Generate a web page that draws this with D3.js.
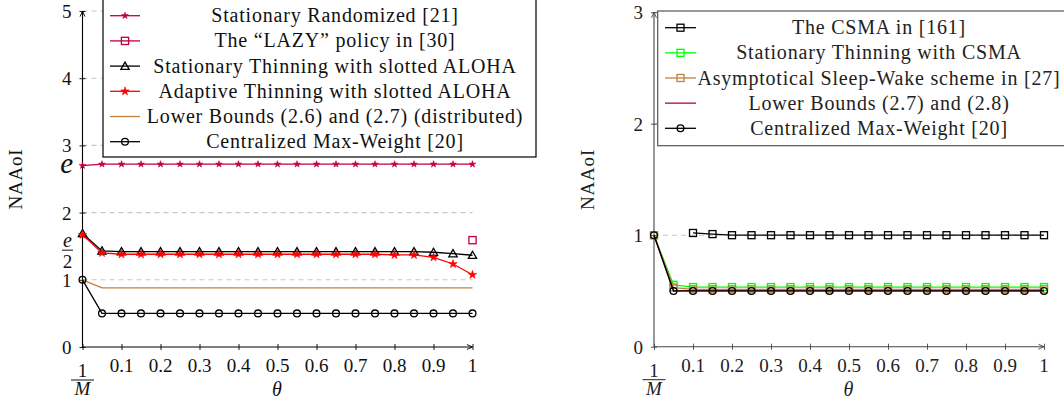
<!DOCTYPE html>
<html><head><meta charset="utf-8">
<script src="https://cdn.jsdelivr.net/npm/d3@7"></script>
<style>
body{margin:0;background:#fff}
text{font-family:"Liberation Serif","Times New Roman",serif;fill:#111}
</style>
</head><body>
<svg id="c" width="1064" height="404"></svg>
<script>
// ---------------- data ----------------
const theta = [0,0.05,0.1,0.15,0.2,0.25,0.3,0.35,0.4,0.45,0.5,0.55,0.6,0.65,0.7,0.75,0.8,0.85,0.9,0.95,1];
const thetaCsma = [0.1,0.15,0.2,0.25,0.3,0.35,0.4,0.45,0.5,0.55,0.6,0.65,0.7,0.75,0.8,0.85,0.9,0.95,1];
const xTickValues = [0.1,0.2,0.3,0.4,0.5,0.6,0.7,0.8,0.9,1];
const xTickLabels = ["0.1","0.2","0.3","0.4","0.5","0.6","0.7","0.8","0.9","1"];

// left panel
const leftYTicks = [0,1,2,3,4,5];
const leftGrid = [1,2,3,4,5];
const statRandomized = [2.70,2.72,2.72,2.72,2.72,2.72,2.72,2.72,2.72,2.72,2.72,2.72,2.72,2.72,2.72,2.72,2.72,2.72,2.72,2.72,2.72];
const lazyTheta = [1];
const lazyPolicy = [1.59];
const statThinAloha = [1.69,1.43,1.42,1.42,1.42,1.42,1.42,1.42,1.42,1.42,1.42,1.42,1.42,1.42,1.42,1.42,1.42,1.42,1.41,1.39,1.365];
const adaptThinAloha = [1.67,1.40,1.38,1.38,1.38,1.38,1.38,1.38,1.38,1.38,1.38,1.38,1.38,1.38,1.38,1.38,1.37,1.37,1.335,1.235,1.075];
const lowerBoundsDist = [1,0.88,0.88,0.88,0.88,0.88,0.88,0.88,0.88,0.88,0.88,0.88,0.88,0.88,0.88,0.88,0.88,0.88,0.88,0.88,0.88];
const maxWeightLeft = [1,0.5,0.5,0.5,0.5,0.5,0.5,0.5,0.5,0.5,0.5,0.5,0.5,0.5,0.5,0.5,0.5,0.5,0.5,0.5,0.5];

// right panel
const rightYTicks = [0,1,2,3];
const rightGrid = [1,2,3];
const csma161 = [1.02,1.01,1.0,1.0,1.0,1.0,1.0,1.0,1.0,1.0,1.0,1.0,1.0,1.0,1.0,1.0,1.0,1.0,1.0];
const statThinCsma = [1.0,0.555,0.535,0.535,0.535,0.535,0.535,0.535,0.535,0.535,0.535,0.535,0.535,0.535,0.535,0.535,0.535,0.535,0.535,0.535,0.535];
const sleepWake = [1.0,0.53,0.515,0.515,0.515,0.515,0.515,0.515,0.515,0.515,0.515,0.515,0.515,0.515,0.515,0.515,0.515,0.515,0.515,0.515,0.515];
const lowerBoundsRight = [1,0.5,0.5,0.5,0.5,0.5,0.5,0.5,0.5,0.5,0.5,0.5,0.5,0.5,0.5,0.5,0.5,0.5,0.5,0.5,0.5];
const maxWeightRight = [1,0.5,0.5,0.5,0.5,0.5,0.5,0.5,0.5,0.5,0.5,0.5,0.5,0.5,0.5,0.5,0.5,0.5,0.5,0.5,0.5];

const leftNames = ["Stationary Randomized [21]","The \u201CLAZY\u201D policy in [30]","Stationary Thinning with slotted ALOHA","Adaptive Thinning with slotted ALOHA","Lower Bounds (2.6) and (2.7) (distributed)","Centralized Max-Weight [20]"];
const rightNames = ["The CSMA in [161]","Stationary Thinning with CSMA","Asymptotical Sleep-Wake scheme in [27]","Lower Bounds (2.7) and (2.8)","Centralized Max-Weight [20]"];

// ---------------- styles ----------------
const PURPLE = "#bf0040", BROWN = "#bf8040", RED = "#ff0000", GREEN = "#00ff00", BLACK = "#000";

const svg = d3.select("#c");
const defs = svg.append("defs");
function arrowMarker(id, color){
  defs.append("marker").attr("id",id).attr("viewBox","0 0 10 10").attr("refX",9).attr("refY",5)
    .attr("markerWidth",7).attr("markerHeight",7).attr("orient","auto-start-reverse")
    .attr("markerUnits","userSpaceOnUse")
    .append("path").attr("d","M1,1.5 L9,5 L1,8.5").attr("fill","none").attr("stroke",color).attr("stroke-width",1.3);
}
arrowMarker("arL","#000");
arrowMarker("arR","#444");

function drawMarker(g, type, cx, cy, color, size){
  if(type==="circle"){
    g.append("circle").attr("cx",cx).attr("cy",cy).attr("r",size).attr("fill","none").attr("stroke",color).attr("stroke-width",1.3);
  } else if(type==="square"){
    g.append("rect").attr("x",cx-size).attr("y",cy-size).attr("width",2*size).attr("height",2*size)
      .attr("fill","none").attr("stroke",color).attr("stroke-width",1.3);
  } else if(type==="star"){
    g.append("path").attr("d",d3.symbol(d3.symbolStar, size)()).attr("transform",`translate(${cx},${cy})`)
      .attr("fill",color).attr("stroke",color).attr("stroke-width",0.6);
  } else if(type==="triangle"){
    g.append("path").attr("d",d3.symbol(d3.symbolTriangle, size)()).attr("transform",`translate(${cx},${cy+0.8})`)
      .attr("fill","none").attr("stroke",color).attr("stroke-width",1.3);
  }
}

function panel(o){
  const g = svg.append("g");
  const x = d3.scaleLinear().domain([0,1]).range([o.xl, o.xr]);
  const y = d3.scaleLinear().domain([0,o.yMax]).range([o.yb, o.yt]);
  // grid
  g.selectAll("line.grid").data(o.grid).join("line").attr("class","grid")
    .attr("x1",x(0)).attr("x2",x(1)).attr("y1",d=>y(d)).attr("y2",d=>y(d))
    .attr("stroke","#c8c8c8").attr("stroke-width",1.1).attr("stroke-dasharray","5,4");
  // axes lines with arrows
  g.append("line").attr("x1",x(0)).attr("x2",x(1)).attr("y1",y(0)).attr("y2",y(0))
    .attr("stroke",o.axisColor).attr("stroke-width",1.1).attr("marker-end",`url(#${o.arrow})`);
  g.append("line").attr("x1",x(0)).attr("x2",x(0)).attr("y1",y(0)).attr("y2",y(o.yMax))
    .attr("stroke",o.axisColor).attr("stroke-width",1.1).attr("marker-end",`url(#${o.arrow})`);
  // x ticks via d3 axis
  const xa = g.append("g").attr("transform",`translate(0,${y(0)})`)
    .call(d3.axisBottom(x).tickValues([0].concat(xTickValues)).tickSize(0).tickFormat(""));
  xa.select(".domain").remove();
  xa.selectAll(".tick line").attr("y1",-3).attr("y2",3).attr("stroke",o.axisColor).attr("stroke-width",0.9);
  g.selectAll("text.xt").data(xTickValues).join("text").attr("class","xt")
    .attr("x",d=>x(d)).attr("y",y(0)+25).attr("text-anchor","middle").style("font-size","19px")
    .style("fill",o.textColor).text((d,i)=>xTickLabels[i]);
  // 1/M
  g.append("text").attr("x",x(0)).attr("y",y(0)+30).attr("text-anchor","middle").style("font-size","19px").style("fill",o.textColor).text("1");
  g.append("line").attr("x1",x(0)-11.5).attr("x2",x(0)+11.5).attr("y1",y(0)+33).attr("y2",y(0)+33).attr("stroke",o.textColor).attr("stroke-width",1);
  g.append("text").attr("x",x(0)).attr("y",y(0)+48).attr("text-anchor","middle").style("font-size","19px").style("font-style","italic").style("fill",o.textColor).text("M");
  g.append("text").attr("x",(x(0)+x(1))/2 - 0.5).attr("y",396).attr("text-anchor","middle").style("font-size","20px").style("font-style","italic").style("fill",o.textColor).text("\u03B8");
  // y ticks
  const ya = g.append("g").attr("transform",`translate(${x(0)},0)`)
    .call(d3.axisLeft(y).tickValues(o.yTicks).tickSize(0).tickFormat(""));
  ya.select(".domain").remove();
  ya.selectAll(".tick line").attr("x1",-3).attr("x2",3).attr("stroke",o.axisColor).attr("stroke-width",0.9);
  g.selectAll("text.yt").data(o.yTicks).join("text").attr("class","yt")
    .attr("x",x(0)-11).attr("y",d=>y(d)+7).attr("text-anchor","end").style("font-size","19px")
    .style("fill",o.textColor).text(d=>d);
  // y label
  g.append("text").attr("transform",`translate(${o.ylabX},${(y(0)+y(o.yMax))/2}) rotate(-90)`)
    .attr("text-anchor","middle").style("font-size","19px").style("letter-spacing","0.8px").style("fill",o.textColor).text("NAAoI");
  if(o.extra) o.extra(g,x,y);
  // series
  const line = d3.line().x(d=>x(d[0])).y(d=>y(d[1]));
  o.series.forEach(s=>{
    const pts = s.xs.map((v,i)=>[v,s.ys[i]]);
    if(pts.length>1) g.append("path").attr("d",line(pts)).attr("fill","none").attr("stroke",s.color).attr("stroke-width",1.3);
    if(s.marker) pts.forEach(p=>drawMarker(g,s.marker,x(p[0]),y(p[1]),s.color,s.msize));
  });
  // legend
  const L = o.legend;
  g.append("rect").attr("x",L.x).attr("y",L.y).attr("width",L.w).attr("height",L.h)
    .attr("fill","#fff").attr("stroke",o.legendStroke).attr("stroke-width",1.2);
  o.series.forEach((s,i)=>{
    const cy = L.row0 + i*L.step;
    g.append("line").attr("x1",L.sx0).attr("x2",L.sx1).attr("y1",cy).attr("y2",cy).attr("stroke",s.color).attr("stroke-width",1.3);
    if(s.marker) drawMarker(g,s.marker,(L.sx0+L.sx1)/2,cy,s.color,s.msize);
    g.append("text").attr("x",L.tc).attr("y",cy+6.5).attr("text-anchor","middle")
      .style("font-size","20px").style("letter-spacing","0.8px").style("fill",o.textColor).text(s.name);
  });
}

panel({
  xl:82.5, xr:472.5, yb:347, yt:11, yMax:5, yTicks:leftYTicks, grid:leftGrid,
  axisColor:"#000", textColor:"#111", arrow:"arL", ylabX:22, legendStroke:"#000",
  series:[
    {name:leftNames[0], xs:theta, ys:statRandomized, color:PURPLE, marker:"star", msize:14},
    {name:leftNames[1], xs:lazyTheta, ys:lazyPolicy, color:PURPLE, marker:"square", msize:3.6},
    {name:leftNames[2], xs:theta, ys:statThinAloha, color:BLACK, marker:"triangle", msize:30},
    {name:leftNames[3], xs:theta, ys:adaptThinAloha, color:RED, marker:"star", msize:22},
    {name:leftNames[4], xs:theta, ys:lowerBoundsDist, color:BROWN, marker:null},
    {name:leftNames[5], xs:theta, ys:maxWeightLeft, color:BLACK, marker:"circle", msize:3.4}
  ],
  legend:{x:103, y:-3, w:433, h:160, row0:15.7, step:25.2, sx0:110, sx1:140, tc:335},
  extra:(g,x,y)=>{
    g.append("text").attr("x",73).attr("y",y(Math.E)+9).attr("text-anchor","end")
      .style("font-size","29px").style("font-style","italic").text("e");
    const ye = y(Math.E/2);
    g.append("text").attr("x",67.5).attr("y",ye-8.5).attr("text-anchor","middle").style("font-size","20px").style("font-style","italic").text("e");
    g.append("line").attr("x1",62).attr("x2",73).attr("y1",ye-5.5).attr("y2",ye-5.5).attr("stroke","#111").attr("stroke-width",1);
    g.append("text").attr("x",67.5).attr("y",ye+12.5).attr("text-anchor","middle").style("font-size","19px").text("2");
  }
});

panel({
  xl:654, xr:1044, yb:346.7, yt:12.2, yMax:3, yTicks:rightYTicks, grid:rightGrid,
  axisColor:"#444", textColor:"#222", arrow:"arR", ylabX:594, legendStroke:"#555",
  series:[
    {name:rightNames[0], xs:thetaCsma, ys:csma161, color:BLACK, marker:"square", msize:3.5},
    {name:rightNames[1], xs:theta, ys:statThinCsma, color:GREEN, marker:"square", msize:3.5},
    {name:rightNames[2], xs:theta, ys:sleepWake, color:BROWN, marker:"square", msize:3.5},
    {name:rightNames[3], xs:theta, ys:lowerBoundsRight, color:PURPLE, marker:null},
    {name:rightNames[4], xs:theta, ys:maxWeightRight, color:BLACK, marker:"circle", msize:3.4}
  ],
  legend:{x:657.7, y:11, w:408, h:134.7, row0:27.7, step:25.15, sx0:665, sx1:696, tc:879}
});
</script>
</body></html>
